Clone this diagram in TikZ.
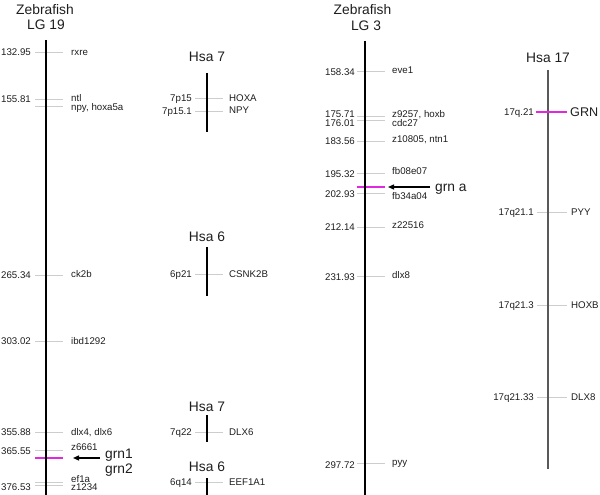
\documentclass[tikz,border=0pt]{standalone}
\usepackage{fontspec}
\setmainfont{Liberation Sans}
\usetikzlibrary{arrows.meta}
\definecolor{mag}{RGB}{225,40,225}
\definecolor{tickgray}{RGB}{205,205,205}
\definecolor{txt}{RGB}{30,30,30}
\begin{document}
\begin{tikzpicture}[x=1pt,y=-1pt,
  chrom/.style={line width=2pt,black},
  hsachrom/.style={line width=1.6pt,black},
  graychrom/.style={line width=1.8pt,black!65},
  tk/.style={draw=tickgray,line width=0.7pt},
  mtk/.style={draw=mag,line width=1.2pt},
  lab/.style={font=\fontsize{9.7}{10}\selectfont,inner sep=0pt,text height=6.9pt,text depth=0pt,text=txt},
  labl/.style={lab,anchor=east},
  labr/.style={lab,anchor=west},
  ttl/.style={font=\fontsize{13.8}{14}\selectfont,inner sep=0pt,text height=9.9pt,text depth=0pt,text=txt},
  arr/.style={line width=1.3pt,-{Triangle[length=6pt,width=5pt]}}
]
\useasboundingbox (0,0) rectangle (600,495);

% ---------------- Zebrafish LG 19 ----------------
\node[ttl] (t19a) at (45,9.5) {Zebrafish};
\node[ttl] (t19b) at (46,25) {LG 19};
\coordinate (c19top) at (46,40);
\coordinate (c19bot) at (46,495);

\draw[tk] (35,52) -- (63,52);   \node[labl] (a1) at (31,52) {132.95};  \node[labr] (b1) at (71,52) {rxre};
\draw[tk] (35,99) -- (63,99);   \node[labl] (a2) at (31,99) {155.81};  \node[labr] (b2) at (71,98.5) {ntl};
\draw[tk] (35,106) -- (63,106);                                        \node[labr] (b3) at (71,107) {npy, hoxa5a};
\draw[tk] (35,275) -- (63,275); \node[labl] (a4) at (31,275) {265.34}; \node[labr] (b4) at (71,274) {ck2b};
\draw[tk] (35,341) -- (63,341); \node[labl] (a5) at (31,341) {303.02}; \node[labr] (b5) at (71,341) {ibd1292};
\draw[tk] (35,432) -- (63,432); \node[labl] (a6) at (31,432) {355.88}; \node[labr] (b6) at (71,432) {dlx4, dlx6};
\draw[tk] (35,450) -- (63,450); \node[labl] (a7) at (31,451) {365.55}; \node[labr] (b7) at (71,447.5) {z6661};
\draw[tk] (35,482) -- (63,482);                                        \node[labr] (b8) at (71,479) {ef1a};
\draw[tk] (35,485) -- (63,485); \node[labl] (a9) at (31,487) {376.53}; \node[labr] (b9) at (71,487.5) {z1234};
\draw[mtk] (35,458) -- (63,458);
\draw[chrom] (c19top) -- (c19bot);

\coordinate (g19s) at (100,458);
\coordinate (g19e) at (73,458);
\draw[arr] (g19s) -- (g19e);
\node[ttl,anchor=west] (grn1) at (105,453.5) {grn1};
\node[ttl,anchor=west] (grn2) at (105,469) {grn2};

% ---------------- Hsa 7 (top) ----------------
\node[ttl] (h7a) at (207,57) {Hsa 7};
\coordinate (h7at) at (207,73); \coordinate (h7ab) at (207,132);
\draw[tk] (195,98) -- (223,98);  \node[labl] (c1) at (192,98) {7p15};   \node[labr] (d1) at (229,98) {HOXA};
\draw[tk] (195,111) -- (223,111); \node[labl] (c2) at (192,111) {7p15.1}; \node[labr] (d2) at (229,110) {NPY};
\draw[hsachrom] (h7at) -- (h7ab);

% ---------------- Hsa 6 (middle) ----------------
\node[ttl] (h6a) at (207,237) {Hsa 6};
\coordinate (h6at) at (207,247); \coordinate (h6ab) at (207,296);
\draw[tk] (195,274) -- (223,274); \node[labl] (c3) at (192,274) {6p21}; \node[labr] (d3) at (229,274) {CSNK2B};
\draw[hsachrom] (h6at) -- (h6ab);

% ---------------- Hsa 7 (bottom) ----------------
\node[ttl] (h7b) at (207,406.5) {Hsa 7};
\coordinate (h7bt) at (207,415); \coordinate (h7bb) at (207,442);
\draw[tk] (195,432) -- (223,432); \node[labl] (c4) at (192,432) {7q22}; \node[labr] (d4) at (229,432) {DLX6};
\draw[hsachrom] (h7bt) -- (h7bb);

% ---------------- Hsa 6 (bottom) ----------------
\node[ttl] (h6b) at (207,467) {Hsa 6};
\coordinate (h6bt) at (207,478); \coordinate (h6bb) at (207,495);
\draw[tk] (195,482) -- (223,482); \node[labl] (c5) at (192,482) {6q14}; \node[labr] (d5) at (229,482) {EEF1A1};
\draw[hsachrom] (h6bt) -- (h6bb);

% ---------------- Zebrafish LG 3 ----------------
\node[ttl] (t3a) at (362.5,9.5) {Zebrafish};
\node[ttl] (t3b) at (366,25.5) {LG 3};
\coordinate (c3top) at (365,41);
\coordinate (c3bot) at (365,495);

\draw[tk] (357,71) -- (385,71);   \node[labl] (e1) at (355,72) {158.34};  \node[labr] (f1) at (392,70) {eve1};
\draw[tk] (357,116) -- (385,116); \node[labl] (e2) at (355,114.5) {175.71}; \node[labr] (f2) at (392,114.5) {z9257, hoxb};
\draw[tk] (357,120) -- (385,120); \node[labl] (e3) at (355,123.5) {176.01}; \node[labr] (f3) at (392,123) {cdc27};
\draw[tk] (357,141) -- (385,141); \node[labl] (e4) at (355,141) {183.56}; \node[labr] (f4) at (392,139.5) {z10805, ntn1};
\draw[tk] (357,173) -- (385,173); \node[labl] (e5) at (355,174) {195.32}; \node[labr] (f5) at (392,171.5) {fb08e07};
\draw[tk] (357,193) -- (385,193); \node[labl] (e6) at (355,194) {202.93}; \node[labr] (f6) at (392,196) {fb34a04};
\draw[tk] (357,227) -- (385,227); \node[labl] (e7) at (355,227) {212.14}; \node[labr] (f7) at (392,225) {z22516};
\draw[tk] (357,276) -- (385,276); \node[labl] (e8) at (355,277) {231.93}; \node[labr] (f8) at (392,275) {dlx8};
\draw[tk] (357,463) -- (385,463); \node[labl] (e9) at (355,465) {297.72}; \node[labr] (f9) at (392,462.5) {pyy};
\draw[mtk] (357,187) -- (385,187);
\draw[chrom] (c3top) -- (c3bot);

\coordinate (g3s) at (430,187);
\coordinate (g3e) at (388,187);
\draw[arr] (g3s) -- (g3e);
\node[ttl,anchor=west] (grna) at (435,187) {grn a};

% ---------------- Hsa 17 ----------------
\node[ttl] (h17) at (548,57.5) {Hsa 17};
\coordinate (h17t) at (548,70); \coordinate (h17b) at (548,469);
\draw[tk] (537,212) -- (567,212); \node[labl] (g2) at (534,212) {17q21.1};  \node[labr] (k2) at (571,212) {PYY};
\draw[tk] (537,305) -- (567,305); \node[labl] (g3) at (534,305) {17q21.3};  \node[labr] (k3) at (571,305) {HOXB};
\draw[tk] (537,397) -- (567,397); \node[labl] (g4) at (534,397) {17q21.33}; \node[labr] (k4) at (571,397) {DLX8};
\draw[graychrom] (h17t) -- (h17b);
\draw[mtk] (536,112) -- (567,112);
\node[labl] (g1) at (534,112) {17q.21};
\node[ttl,anchor=west,font=\fontsize{12.6}{13}\selectfont,text height=9pt] (grn) at (570,112) {GRN};
\end{tikzpicture}
\end{document}
